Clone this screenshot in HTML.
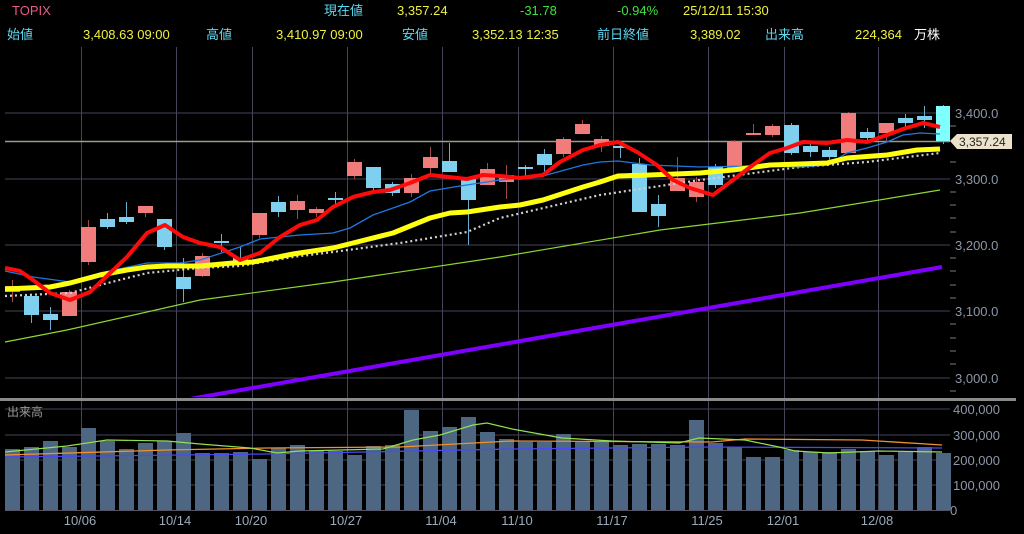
<!DOCTYPE html>
<html><head><meta charset="utf-8"><style>
html,body{margin:0;padding:0;background:#000;}
svg{display:block;font-family:"Liberation Sans","Noto Sans CJK JP",sans-serif;}
</style></head><body>
<svg width="1024" height="534" viewBox="0 0 1024 534" xmlns="http://www.w3.org/2000/svg">
<rect width="1024" height="534" fill="#000"/>
<!-- header -->
<g font-size="13">
<text x="12" y="15" fill="#e85a8a">TOPIX</text>
<text x="324" y="15" fill="#5fd8f0">現在値</text>
<text x="397" y="15" fill="#f0f040">3,357.24</text>
<text x="520" y="15" fill="#40e040">-31.78</text>
<text x="617" y="15" fill="#40e040">-0.94%</text>
<text x="683" y="15" fill="#f0f040">25/12/11  15:30</text>
<text x="7" y="39" fill="#5fd8f0">始値</text>
<text x="83" y="39" fill="#f0f040">3,408.63 09:00</text>
<text x="206" y="39" fill="#5fd8f0">高値</text>
<text x="276" y="39" fill="#f0f040">3,410.97 09:00</text>
<text x="402" y="39" fill="#5fd8f0">安値</text>
<text x="472" y="39" fill="#f0f040">3,352.13 12:35</text>
<text x="597" y="39" fill="#5fd8f0">前日終値</text>
<text x="690" y="39" fill="#f0f040">3,389.02</text>
<text x="765" y="39" fill="#5fd8f0">出来高</text>
<text x="855" y="39" fill="#f0f040">224,364</text>
<text x="914" y="39" fill="#ffffff">万株</text>
</g>
<!-- grid -->
<g stroke="#454558" stroke-width="1">
<line x1="5" y1="113" x2="950" y2="113"/><line x1="5" y1="179" x2="950" y2="179"/>
<line x1="5" y1="245" x2="950" y2="245"/><line x1="5" y1="311" x2="950" y2="311"/>
<line x1="5" y1="378" x2="950" y2="378"/>
<line x1="5" y1="409" x2="950" y2="409"/><line x1="5" y1="435" x2="950" y2="435"/>
<line x1="5" y1="460" x2="950" y2="460"/><line x1="5" y1="485" x2="950" y2="485"/>
<g>
<line x1="81.5" y1="47" x2="81.5" y2="510"/><line x1="176.5" y1="47" x2="176.5" y2="510"/>
<line x1="252.5" y1="47" x2="252.5" y2="510"/><line x1="347.5" y1="47" x2="347.5" y2="510"/>
<line x1="442.5" y1="47" x2="442.5" y2="510"/><line x1="518.5" y1="47" x2="518.5" y2="510"/>
<line x1="613.5" y1="47" x2="613.5" y2="510"/><line x1="708.5" y1="47" x2="708.5" y2="510"/>
<line x1="784.5" y1="47" x2="784.5" y2="510"/><line x1="878.5" y1="47" x2="878.5" y2="510"/>
</g>
</g>
<line x1="5" y1="510.5" x2="950" y2="510.5" stroke="#556" stroke-width="1"/>
<!-- minor ticks -->
<g stroke="#778" stroke-width="1">
<line x1="950" y1="126" x2="956" y2="126"/><line x1="950" y1="162" x2="956" y2="162"/>
<line x1="950" y1="192" x2="956" y2="192"/><line x1="950" y1="205" x2="956" y2="205"/>
<line x1="950" y1="218" x2="956" y2="218"/><line x1="950" y1="232" x2="956" y2="232"/>
<line x1="950" y1="258" x2="956" y2="258"/><line x1="950" y1="271" x2="956" y2="271"/>
<line x1="950" y1="285" x2="956" y2="285"/><line x1="950" y1="298" x2="956" y2="298"/>
<line x1="950" y1="324" x2="956" y2="324"/><line x1="950" y1="338" x2="956" y2="338"/>
<line x1="950" y1="351" x2="956" y2="351"/><line x1="950" y1="364" x2="956" y2="364"/>
<line x1="950" y1="391" x2="956" y2="391"/>
</g>
<!-- axis labels -->
<g font-size="13" fill="#8d97a8">
<text x="955" y="118">3,400.0</text>
<text x="955" y="184">3,300.0</text>
<text x="955" y="250">3,200.0</text>
<text x="955" y="316">3,100.0</text>
<text x="955" y="383">3,000.0</text>
<text x="953" y="414">400,000</text>
<text x="953" y="440">300,000</text>
<text x="953" y="465">200,000</text>
<text x="953" y="490">100,000</text>
<text x="950" y="515">0</text>
</g>
<g font-size="13" fill="#9aaabb" text-anchor="middle">
<text x="80" y="525">10/06</text><text x="175" y="525">10/14</text>
<text x="251" y="525">10/20</text><text x="346" y="525">10/27</text>
<text x="441" y="525">11/04</text><text x="517" y="525">11/10</text>
<text x="612" y="525">11/17</text><text x="707" y="525">11/25</text>
<text x="783" y="525">12/01</text><text x="877" y="525">12/08</text>
</g>
<text x="7" y="416" font-size="12" fill="#999">出来高</text>
<!-- volume bars -->
<g fill="#4d6681">
<rect x="5" y="449" width="15" height="61"/><rect x="24" y="447" width="15" height="63"/>
<rect x="43" y="441" width="15" height="69"/><rect x="62" y="447" width="15" height="63"/>
<rect x="81" y="428" width="15" height="82"/><rect x="100" y="441" width="15" height="69"/>
<rect x="119" y="449" width="15" height="61"/><rect x="138" y="443" width="15" height="67"/>
<rect x="157" y="441" width="15" height="69"/><rect x="176" y="433" width="15" height="77"/>
<rect x="195" y="453" width="15" height="57"/><rect x="214" y="453" width="15" height="57"/>
<rect x="233" y="452" width="15" height="58"/><rect x="252" y="459" width="15" height="51"/>
<rect x="271" y="448" width="15" height="62"/><rect x="290" y="445" width="15" height="65"/>
<rect x="309" y="451" width="15" height="59"/><rect x="328" y="451" width="15" height="59"/>
<rect x="347" y="455" width="15" height="55"/><rect x="366" y="446" width="15" height="64"/>
<rect x="385" y="445" width="15" height="65"/><rect x="404" y="410" width="15" height="100"/>
<rect x="423" y="431" width="15" height="79"/><rect x="442" y="427" width="15" height="83"/>
<rect x="461" y="417" width="15" height="93"/><rect x="480" y="432" width="15" height="78"/>
<rect x="499" y="439" width="15" height="71"/><rect x="518" y="442" width="15" height="68"/>
<rect x="537" y="442" width="15" height="68"/><rect x="556" y="434" width="15" height="76"/>
<rect x="575" y="442" width="15" height="68"/><rect x="594" y="441" width="15" height="69"/>
<rect x="613" y="445" width="15" height="65"/><rect x="632" y="444" width="15" height="66"/>
<rect x="651" y="444" width="15" height="66"/><rect x="670" y="445" width="15" height="65"/>
<rect x="689" y="420" width="15" height="90"/><rect x="708" y="443" width="15" height="67"/>
<rect x="727" y="447" width="15" height="63"/><rect x="746" y="457" width="15" height="53"/>
<rect x="765" y="457" width="15" height="53"/><rect x="784" y="450" width="15" height="60"/>
<rect x="803" y="452" width="15" height="58"/><rect x="822" y="452" width="15" height="58"/>
<rect x="841" y="449" width="15" height="61"/><rect x="860" y="451" width="15" height="59"/>
<rect x="879" y="455" width="15" height="55"/><rect x="898" y="452" width="15" height="58"/>
<rect x="917" y="447" width="15" height="63"/><rect x="936" y="453" width="15" height="57"/>
</g>
<!-- volume MAs -->
<polyline fill="none" stroke="#4a4af0" stroke-width="1.3" points="5,457 267,454 512,449 712,447 942,448"/>
<polyline fill="none" stroke="#f09030" stroke-width="1.3" points="5,455 167,450 267,448 400,447 512,441 712,442 745,439 862,440 942,445"/>
<polyline fill="none" stroke="#90e050" stroke-width="1.2" points="5,452 67,446 107,440 167,441 200,444 250,448 277,453 300,451 383,449 413,440 440,435 473,425 487,423 512,429 562,438 612,441 679,443 699,438 745,440 779,447 795,451 829,453 879,451 942,452"/>
<!-- separator -->
<rect x="0" y="398" width="1016" height="3" fill="#8a8a8a"/>
<!-- price pane -->
<svg x="0" y="47" width="950" height="350" viewBox="0 47 950 350" overflow="hidden">
<polyline fill="none" stroke="#8000ff" stroke-width="4" points="150,406 942,267"/>
<polyline fill="none" stroke="#8cd830" stroke-width="1.2" points="5,342 67,330 200,300 333,282 500,257 660,230 800,213 940,190"/>
<line x1="5" y1="141.5" x2="950" y2="141.5" stroke="#a09888" stroke-width="1.5"/>
<g stroke-width="1">
<line x1="12.5" y1="280" x2="12.5" y2="302" stroke="#a04848"/><rect x="5" y="286" width="15" height="6" fill="#f07c7c"/>
<line x1="31.5" y1="296" x2="31.5" y2="323" stroke="#6aaccc"/><rect x="24" y="296" width="15" height="19" fill="#7fcfee"/>
<line x1="50.5" y1="307" x2="50.5" y2="330" stroke="#6aaccc"/><rect x="43" y="314" width="15" height="6" fill="#7fcfee"/>
<line x1="69.5" y1="290" x2="69.5" y2="316" stroke="#a04848"/><rect x="62" y="292" width="15" height="24" fill="#f07c7c"/>
<line x1="88.5" y1="220" x2="88.5" y2="265" stroke="#a04848"/><rect x="81" y="227" width="15" height="35" fill="#f07c7c"/>
<line x1="107.5" y1="213" x2="107.5" y2="229" stroke="#6aaccc"/><rect x="100" y="219" width="15" height="8" fill="#7fcfee"/>
<line x1="126.5" y1="202" x2="126.5" y2="224" stroke="#6aaccc"/><rect x="119" y="217" width="15" height="5" fill="#7fcfee"/>
<line x1="145.5" y1="206" x2="145.5" y2="217" stroke="#a04848"/><rect x="138" y="206" width="15" height="7" fill="#f07c7c"/>
<line x1="164.5" y1="219" x2="164.5" y2="250" stroke="#6aaccc"/><rect x="157" y="219" width="15" height="28" fill="#7fcfee"/>
<line x1="183.5" y1="258" x2="183.5" y2="302" stroke="#6aaccc"/><rect x="176" y="277" width="15" height="12" fill="#7fcfee"/>
<line x1="202.5" y1="253" x2="202.5" y2="277" stroke="#a04848"/><rect x="195" y="256" width="15" height="20" fill="#f07c7c"/>
<line x1="221.5" y1="234" x2="221.5" y2="252" stroke="#6aaccc"/><rect x="214" y="241" width="15" height="2" fill="#7fcfee"/>
<line x1="240.5" y1="247" x2="240.5" y2="263" stroke="#6aaccc"/><rect x="233" y="258" width="15" height="5" fill="#7fcfee"/>
<line x1="259.5" y1="213" x2="259.5" y2="238" stroke="#a04848"/><rect x="252" y="213" width="15" height="22" fill="#f07c7c"/>
<line x1="278.5" y1="196" x2="278.5" y2="217" stroke="#6aaccc"/><rect x="271" y="202" width="15" height="10" fill="#7fcfee"/>
<line x1="297.5" y1="195" x2="297.5" y2="219" stroke="#a04848"/><rect x="290" y="201" width="15" height="9" fill="#f07c7c"/>
<line x1="316.5" y1="207" x2="316.5" y2="217" stroke="#a04848"/><rect x="309" y="209" width="15" height="4" fill="#f07c7c"/>
<line x1="335.5" y1="192" x2="335.5" y2="205" stroke="#6aaccc"/><rect x="328" y="198" width="15" height="2" fill="#7fcfee"/>
<line x1="354.5" y1="159" x2="354.5" y2="179" stroke="#a04848"/><rect x="347" y="162" width="15" height="14" fill="#f07c7c"/>
<line x1="373.5" y1="167" x2="373.5" y2="190" stroke="#6aaccc"/><rect x="366" y="167" width="15" height="21" fill="#7fcfee"/>
<line x1="392.5" y1="182" x2="392.5" y2="196" stroke="#6aaccc"/><rect x="385" y="184" width="15" height="9" fill="#7fcfee"/>
<line x1="411.5" y1="174" x2="411.5" y2="197" stroke="#a04848"/><rect x="404" y="178" width="15" height="15" fill="#f07c7c"/>
<line x1="430.5" y1="147" x2="430.5" y2="173" stroke="#a04848"/><rect x="423" y="157" width="15" height="11" fill="#f07c7c"/>
<line x1="449.5" y1="143" x2="449.5" y2="172" stroke="#6aaccc"/><rect x="442" y="161" width="15" height="11" fill="#7fcfee"/>
<line x1="468.5" y1="177" x2="468.5" y2="245" stroke="#6aaccc"/><rect x="461" y="177" width="15" height="23" fill="#7fcfee"/>
<line x1="487.5" y1="163" x2="487.5" y2="185" stroke="#a04848"/><rect x="480" y="169" width="15" height="16" fill="#f07c7c"/>
<line x1="506.5" y1="165" x2="506.5" y2="199" stroke="#a04848"/><rect x="499" y="175" width="15" height="7" fill="#f07c7c"/>
<line x1="525.5" y1="165" x2="525.5" y2="177" stroke="#6aaccc"/><rect x="518" y="167" width="15" height="2" fill="#7fcfee"/>
<line x1="544.5" y1="149" x2="544.5" y2="172" stroke="#6aaccc"/><rect x="537" y="154" width="15" height="11" fill="#7fcfee"/>
<line x1="563.5" y1="137" x2="563.5" y2="157" stroke="#a04848"/><rect x="556" y="139" width="15" height="15" fill="#f07c7c"/>
<line x1="582.5" y1="120" x2="582.5" y2="134" stroke="#a04848"/><rect x="575" y="124" width="15" height="10" fill="#f07c7c"/>
<line x1="601.5" y1="136" x2="601.5" y2="152" stroke="#a04848"/><rect x="594" y="139" width="15" height="7" fill="#f07c7c"/>
<line x1="620.5" y1="143" x2="620.5" y2="158" stroke="#6aaccc"/><rect x="613" y="146" width="15" height="2" fill="#7fcfee"/>
<line x1="639.5" y1="158" x2="639.5" y2="212" stroke="#6aaccc"/><rect x="632" y="164" width="15" height="48" fill="#7fcfee"/>
<line x1="658.5" y1="195" x2="658.5" y2="227" stroke="#6aaccc"/><rect x="651" y="204" width="15" height="12" fill="#7fcfee"/>
<line x1="677.5" y1="157" x2="677.5" y2="191" stroke="#a04848"/><rect x="670" y="178" width="15" height="13" fill="#f07c7c"/>
<line x1="696.5" y1="177" x2="696.5" y2="202" stroke="#a04848"/><rect x="689" y="182" width="15" height="15" fill="#f07c7c"/>
<line x1="715.5" y1="164" x2="715.5" y2="188" stroke="#6aaccc"/><rect x="708" y="167" width="15" height="18" fill="#7fcfee"/>
<line x1="734.5" y1="140" x2="734.5" y2="170" stroke="#a04848"/><rect x="727" y="142" width="15" height="28" fill="#f07c7c"/>
<line x1="753.5" y1="124" x2="753.5" y2="135" stroke="#a04848"/><rect x="746" y="133" width="15" height="2" fill="#f07c7c"/>
<line x1="772.5" y1="124" x2="772.5" y2="137" stroke="#a04848"/><rect x="765" y="126" width="15" height="9" fill="#f07c7c"/>
<line x1="791.5" y1="123" x2="791.5" y2="155" stroke="#6aaccc"/><rect x="784" y="125" width="15" height="28" fill="#7fcfee"/>
<line x1="810.5" y1="143" x2="810.5" y2="157" stroke="#6aaccc"/><rect x="803" y="146" width="15" height="6" fill="#7fcfee"/>
<line x1="829.5" y1="147" x2="829.5" y2="162" stroke="#6aaccc"/><rect x="822" y="150" width="15" height="7" fill="#7fcfee"/>
<line x1="848.5" y1="112" x2="848.5" y2="153" stroke="#a04848"/><rect x="841" y="113" width="15" height="40" fill="#f07c7c"/>
<line x1="867.5" y1="128" x2="867.5" y2="142" stroke="#6aaccc"/><rect x="860" y="132" width="15" height="6" fill="#7fcfee"/>
<line x1="886.5" y1="123" x2="886.5" y2="142" stroke="#a04848"/><rect x="879" y="123" width="15" height="10" fill="#f07c7c"/>
<line x1="905.5" y1="114" x2="905.5" y2="127" stroke="#6aaccc"/><rect x="898" y="118" width="15" height="5" fill="#7fcfee"/>
<line x1="924.5" y1="106" x2="924.5" y2="128" stroke="#6aaccc"/><rect x="917" y="116" width="15" height="4" fill="#7fcfee"/>
<line x1="943.5" y1="105" x2="943.5" y2="144" stroke="#6aaccc"/><rect x="936" y="106" width="14" height="35" fill="#80ffff"/>
</g>
<polyline fill="none" stroke="#d0d0d0" stroke-width="2.2" stroke-dasharray="2,3" points="5,296 70,293 100,285 147,273 200,268 240,266 293,257 333,252 400,243 467,232 500,218 600,195 700,180 800,167 867,162 940,153"/>
<polyline fill="none" stroke="#1e78e0" stroke-width="1.3" points="5,271 33,277 70,282 100,273 147,263 180,263 200,260 240,247 260,239 300,235 333,233 350,228 373,215 410,202 430,191 460,186 500,180 543,176 583,165 600,162 618,161 650,165 700,167 750,166 800,167 827,165 847,153 867,148 887,142 903,135 920,133 940,134"/>
<polyline fill="none" stroke="#ffff10" stroke-width="5" stroke-linejoin="round" points="5,289 50,287 70,283 100,275 127,270 147,267 167,266 200,266 233,263 253,262 293,254 333,248 353,243 393,233 430,218 450,213 467,212 500,207 520,205 543,200 583,187 600,182 618,176 650,175 700,173 733,170 770,165 800,164 827,163 847,158 887,155 917,150 940,149"/>
<polyline fill="none" stroke="#ff0a0a" stroke-width="4" stroke-linejoin="round" points="5,268 20,271 33,280 50,293 70,300 90,292 127,257 147,233 165,225 183,237 200,243 220,247 240,260 260,253 280,237 300,225 317,220 333,207 353,197 373,192 390,190 410,183 430,175 467,179 483,175 500,176 520,178 543,175 560,162 583,150 600,145 618,142 637,152 657,165 673,180 690,188 713,195 733,180 753,165 770,153 787,148 803,142 827,143 847,140 867,142 887,135 903,129 923,123 940,127"/>
</svg>
<!-- price label -->
<polygon points="950,141 957,134 1012,134 1012,149 957,149" fill="#ece2cc"/>
<text x="959" y="146" font-size="12" fill="#222">3,357.24</text>
</svg>
</body></html>
